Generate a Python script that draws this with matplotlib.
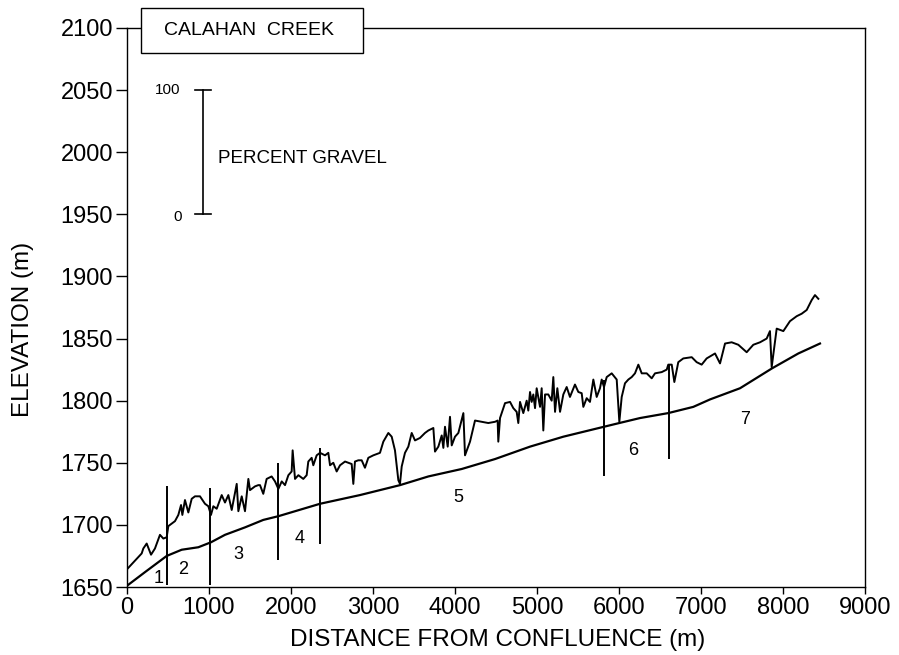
import matplotlib
matplotlib.use("Agg")
import matplotlib.pyplot as plt
from matplotlib.patches import Rectangle

plt.rcParams['font.family'] = ['Liberation Sans', 'DejaVu Sans']

# ---- data ----
bed_x = [0, 220, 484, 667, 870, 1024, 1195, 1439, 1662, 1846, 2354, 2841, 3329,
         3675, 4082, 4488, 4915, 5321, 5817, 6004, 6256, 6601, 6906, 7110, 7476,
         7866, 8187, 8451]
bed_y = [1651, 1662, 1675, 1680, 1682, 1686, 1692, 1698, 1704, 1707, 1717, 1724, 1732,
         1739, 1745, 1753, 1763, 1771, 1779, 1782, 1786, 1790, 1795, 1801, 1810,
         1826, 1838, 1846]

surf_x = [10, 138, 179, 199, 240, 293, 341, 402, 443, 484, 504, 585, 626, 659, 675,
          707, 748, 789, 829, 890, 951, 992, 1024, 1053, 1094, 1155, 1195, 1236,
          1277, 1338, 1358, 1399, 1439, 1480, 1500, 1561, 1601, 1622, 1662, 1703,
          1764, 1805, 1846, 1887, 1927, 1968, 2008, 2020, 2049, 2090, 2150, 2191,
          2211, 2252, 2272, 2313, 2354, 2415, 2455, 2476, 2516, 2557, 2598, 2659,
          2699, 2740, 2760, 2780, 2821, 2862, 2902, 2943, 3004, 3085, 3126, 3187,
          3228, 3268, 3309, 3329, 3350, 3390, 3431, 3472, 3512, 3573, 3634, 3675,
          3736, 3756, 3797, 3838, 3858, 3878, 3911, 3939, 3960, 4000, 4041, 4102,
          4122, 4183, 4244, 4325, 4406, 4488, 4520, 4528, 4549, 4610, 4671, 4711,
          4752, 4772, 4793, 4833, 4874, 4894, 4915, 4935, 4955, 4976, 4996, 5037,
          5057, 5077, 5098, 5138, 5179, 5199, 5220, 5248, 5281, 5321, 5362, 5402,
          5463, 5504, 5545, 5565, 5606, 5646, 5687, 5728, 5768, 5789, 5817, 5850,
          5911, 5972, 6004, 6033, 6073, 6114, 6155, 6195, 6236, 6277, 6338, 6399,
          6439, 6521, 6582, 6601, 6643, 6675, 6723, 6784, 6887, 6947, 7008, 7069,
          7171, 7232, 7293, 7374, 7455, 7557, 7638, 7720, 7801, 7841, 7862, 7923,
          8004, 8085, 8167, 8228, 8289, 8350, 8390, 8431]
surf_y = [1665, 1674, 1677, 1681, 1685, 1676, 1681, 1692, 1689, 1690, 1699, 1703, 1708, 1716, 1708,
          1720, 1710, 1721, 1723, 1723, 1717, 1715, 1708, 1715, 1713, 1724, 1718, 1724,
          1712, 1733, 1711, 1723, 1711, 1737, 1728, 1731, 1732, 1732, 1725, 1737,
          1739, 1735, 1729, 1735, 1732, 1740, 1743, 1760, 1737, 1740, 1737, 1740,
          1751, 1754, 1748, 1756, 1758, 1756, 1758, 1748, 1750, 1743, 1748, 1751,
          1750, 1749, 1733, 1751, 1752, 1752, 1746, 1754, 1756, 1758, 1767, 1774,
          1771, 1760, 1736, 1733, 1747, 1758, 1763, 1774, 1768, 1770, 1774, 1776,
          1778, 1759, 1763, 1772, 1762, 1779, 1763, 1787, 1764, 1771, 1774, 1790,
          1756, 1767, 1784, 1783, 1782, 1783, 1784, 1767, 1786, 1798, 1799, 1794,
          1791, 1782, 1799, 1790, 1800, 1792, 1807, 1799, 1805, 1794, 1810, 1795,
          1810, 1776, 1805, 1805, 1800, 1819, 1791, 1810, 1791, 1805, 1811, 1803,
          1813, 1807, 1806, 1795, 1802, 1799, 1817, 1803, 1810, 1817, 1811, 1819,
          1822, 1817, 1783, 1803, 1814, 1817, 1819, 1822, 1829, 1822, 1822, 1818,
          1822, 1823, 1825, 1829, 1829, 1815, 1831, 1834, 1835, 1831, 1829, 1834,
          1838, 1830, 1846, 1847, 1845, 1839, 1845, 1847, 1850, 1856, 1827, 1858,
          1856, 1864, 1868, 1870, 1873, 1881, 1885, 1882]

boundary_x = [490, 1010, 1845, 2350, 5815, 6610]
boundary_bottom = [1652, 1652, 1672, 1685, 1739, 1753]
boundary_top = [1731, 1730, 1750, 1762, 1817, 1829]

reach_labels = ['1', '2', '3', '4', '5', '6', '7']
reach_label_x = [390, 680, 1360, 2110, 4040, 6170, 7540]
reach_label_y = [1657, 1664, 1676, 1689, 1722, 1760, 1785]

x_ticks = [0, 1000, 2000, 3000, 4000, 5000, 6000, 7000, 8000, 9000]
y_ticks = [1650, 1700, 1750, 1800, 1850, 1900, 1950, 2000, 2050, 2100]

# ---- figure ----
fig = plt.figure(figsize=(8.99, 6.55), dpi=100)
ax = fig.add_axes([127/899, 1 - 587/655, 738/899, 559/655])

ax.plot(bed_x, bed_y, color='black', lw=1.6)
ax.plot(surf_x, surf_y, color='black', lw=1.4)
ax.vlines(boundary_x, boundary_bottom, boundary_top, color='black', lw=1.4)

for lab, lx, ly in zip(reach_labels, reach_label_x, reach_label_y):
    ax.text(lx, ly, lab, fontsize=13, ha='center', va='center')

# percent gravel scale bar
ax.plot([927, 927], [1950, 2050], color='black', lw=1.2)
ax.plot([830, 1030], [2050, 2050], color='black', lw=1.2)
ax.plot([830, 1030], [1950, 1950], color='black', lw=1.2)
ax.text(650, 2050, '100', fontsize=11, ha='right', va='center')
ax.text(670, 1948, '0', fontsize=11, ha='right', va='center')
ax.text(1110, 1995, 'PERCENT GRAVEL', fontsize=13.5, ha='left', va='center')

ax.set_xlim(0, 9000)
ax.set_ylim(1650, 2100)
ax.set_xticks(x_ticks)
ax.set_yticks(y_ticks)
ax.tick_params(axis='y', direction='out', length=8, width=1, labelsize=17, pad=2)
ax.tick_params(axis='x', direction='out', length=5, width=1, labelsize=17, pad=2)
for s in ax.spines.values():
    s.set_linewidth(1.0)

ax.set_xlabel('DISTANCE FROM CONFLUENCE (m)', fontsize=17.5, va='center')
ax.set_ylabel('ELEVATION (m)', fontsize=17.5, va='center')
ax.xaxis.set_label_coords(0.502, -0.095)
ax.yaxis.set_label_coords(-0.141, 0.46)

# title box overlapping the top spine
ax.add_patch(Rectangle((0.019, 0.955), 0.301, 0.081, transform=ax.transAxes,
                       facecolor='white', edgecolor='black', lw=1.0,
                       clip_on=False, zorder=5))
ax.text(0.165, 0.9955, 'CALAHAN  CREEK', transform=ax.transAxes, fontsize=14,
        ha='center', va='center', zorder=6)

fig.savefig('out.png', dpi=100)
